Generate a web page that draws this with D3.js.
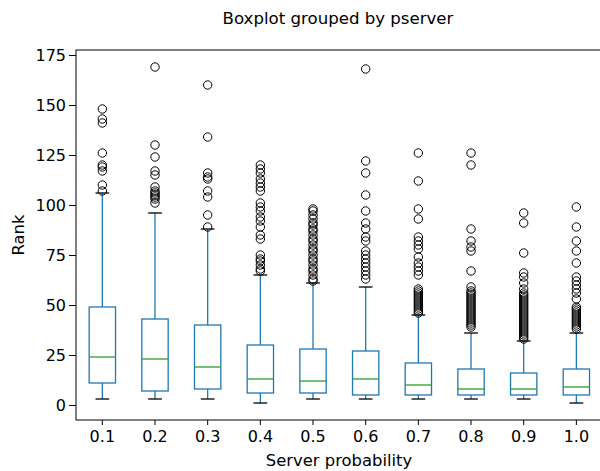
<!DOCTYPE html>
<html>
<head>
<meta charset="utf-8">
<script src="https://cdn.jsdelivr.net/npm/d3@7"></script>
<style>
  html, body { margin: 0; padding: 0; background: #fff; }
  svg { display: block; font-family: "DejaVu Sans", sans-serif; }
</style>
</head>
<body>
<svg id="chart" width="600" height="471"></svg>
<script>
const categories = ["0.1", "0.2", "0.3", "0.4", "0.5", "0.6", "0.7", "0.8", "0.9", "1.0"];
const q1 = [11, 7, 8, 6, 6, 5, 5, 5, 5, 5];
const median = [24, 23, 19, 13, 12, 13, 10, 8, 8, 9];
const q3 = [49, 43, 40, 30, 28, 27, 21, 18, 16, 18];
const whiskerLow = [3, 3, 3, 1, 3, 3, 3, 3, 3, 1];
const whiskerHigh = [106, 96, 88, 65, 61, 59, 45, 36, 32, 36];
const outliers = [
  [148, 143, 141, 126, 120, 119, 117, 110, 107],
  [169, 130, 124, 117, 115, 109, 107, 106, 105, 104, 103, 101],
  [160, 134, 116, 114, 113, 107, 104, 95, 89],
  [120, 118, 116, 113, 111, 109, 107, 101, 99, 97, 94, 92, 89, 85, 83, 75, 73, 72, 70, 68, 67],
  [98, 97, 95, 93, 91, 90, 88, 87, 85, 83, 82, 80, 78, 77, 75, 73, 72, 70, 68, 67, 65, 63, 62],
  [168, 122, 116, 105, 97, 91, 88, 84, 82, 77, 75, 73, 71, 69, 67, 65, 63],
  [126, 112, 98, 93, 84, 82, 80, 78, 74, 71, 69, 67, 65, 58, 57, 56, 55, 54, 53, 52, 51, 50, 49, 48, 47, 46],
  [126, 120, 88, 82, 79, 77, 67, 59, 57, 56, 55, 54, 53, 52, 51, 50, 49, 48, 47, 46, 45, 44, 43, 42, 41, 40, 39],
  [96, 91, 76, 66, 64, 61, 58, 56, 55, 54, 53, 52, 51, 50, 49, 48, 47, 46, 45, 44, 43, 42, 41, 40, 39, 38, 37, 36, 35, 34, 33],
  [99, 89, 82, 77, 71, 64, 62, 60, 58, 56, 53, 49, 48, 47, 46, 45, 44, 43, 42, 41, 40, 39, 38]
];
const yTicks = [0, 25, 50, 75, 100, 125, 150, 175];
const titleText = "Boxplot grouped by pserver";
const xLabelText = "Server probability";
const yLabelText = "Rank";

(function () {
const svg = d3.select("#chart");
const mLeft = 76, mRight = 602.7, mTop = 50, mBottom = 420;

const x = d3.scaleBand().domain(categories).range([mLeft, mRight]).paddingInner(0).paddingOuter(0);
const y = d3.scaleLinear().domain([-7.5, 177.5]).range([mBottom, mTop]);
const bw = x.bandwidth();
const boxW = bw * 0.5;
const capW = bw * 0.26;

const data = categories.map((c, i) => ({
  c, q1: q1[i], med: median[i], q3: q3[i], lo: whiskerLow[i], hi: whiskerHigh[i], out: outliers[i]
}));

const boxColor = "#1f77b4";
const medColor = "#2ca02c";
const cx = d => x(d.c) + bw / 2;

const g = svg.append("g");
const groups = g.selectAll("g.box").data(data).join("g").attr("class", "box");

groups.append("line")
  .attr("x1", cx).attr("x2", cx)
  .attr("y1", d => y(d.q3)).attr("y2", d => y(d.hi))
  .attr("stroke", boxColor).attr("stroke-width", 1.3);
groups.append("line")
  .attr("x1", cx).attr("x2", cx)
  .attr("y1", d => y(d.q1)).attr("y2", d => y(d.lo))
  .attr("stroke", boxColor).attr("stroke-width", 1.3);
groups.append("line")
  .attr("x1", d => cx(d) - capW / 2).attr("x2", d => cx(d) + capW / 2)
  .attr("y1", d => y(d.hi)).attr("y2", d => y(d.hi))
  .attr("stroke", "#000").attr("stroke-width", 1.3);
groups.append("line")
  .attr("x1", d => cx(d) - capW / 2).attr("x2", d => cx(d) + capW / 2)
  .attr("y1", d => y(d.lo)).attr("y2", d => y(d.lo))
  .attr("stroke", "#000").attr("stroke-width", 1.3);
groups.append("rect")
  .attr("x", d => cx(d) - boxW / 2)
  .attr("width", boxW)
  .attr("y", d => y(d.q3))
  .attr("height", d => y(d.q1) - y(d.q3))
  .attr("fill", "none").attr("stroke", boxColor).attr("stroke-width", 1.3);
groups.append("line")
  .attr("x1", d => cx(d) - boxW / 2).attr("x2", d => cx(d) + boxW / 2)
  .attr("y1", d => y(d.med)).attr("y2", d => y(d.med))
  .attr("stroke", medColor).attr("stroke-width", 1.3);
groups.each(function (d) {
  d3.select(this).selectAll("circle").data(d.out).join("circle")
    .attr("cx", cx(d))
    .attr("cy", v => y(v))
    .attr("r", 4.2)
    .attr("fill", "none").attr("stroke", "#000").attr("stroke-width", 1);
});

const xAxis = d3.axisBottom(x).tickSize(5).tickPadding(6);
const yAxis = d3.axisLeft(y).tickValues(yTicks).tickSize(7).tickPadding(3);

const gx = svg.append("g").attr("transform", `translate(0,${mBottom})`).call(xAxis);
const gy = svg.append("g").attr("transform", `translate(${mLeft},0)`).call(yAxis);
[gx, gy].forEach(a => {
  a.select(".domain").remove();
  a.selectAll("line").attr("stroke", "#000").attr("stroke-width", 1);
  a.selectAll("text").attr("fill", "#000").style("font-size", "16px").style("font-family", "DejaVu Sans, sans-serif");
});

svg.append("rect")
  .attr("x", mLeft).attr("y", mTop).attr("width", mRight - mLeft).attr("height", mBottom - mTop)
  .attr("fill", "none").attr("stroke", "#000").attr("stroke-width", 1);

svg.append("text").attr("x", 339).attr("y", 466).attr("text-anchor", "middle")
  .style("font-size", "16.4px").attr("fill", "#000").text(xLabelText);
svg.append("text").attr("transform", `translate(24,${(mTop + mBottom) / 2}) rotate(-90)`)
  .attr("text-anchor", "middle").style("font-size", "16.4px").attr("fill", "#000").text(yLabelText);
svg.append("text").attr("x", 338).attr("y", 24).attr("text-anchor", "middle")
  .style("font-size", "16.6px").attr("fill", "#000").text(titleText);
})();
</script>
</body>
</html>
